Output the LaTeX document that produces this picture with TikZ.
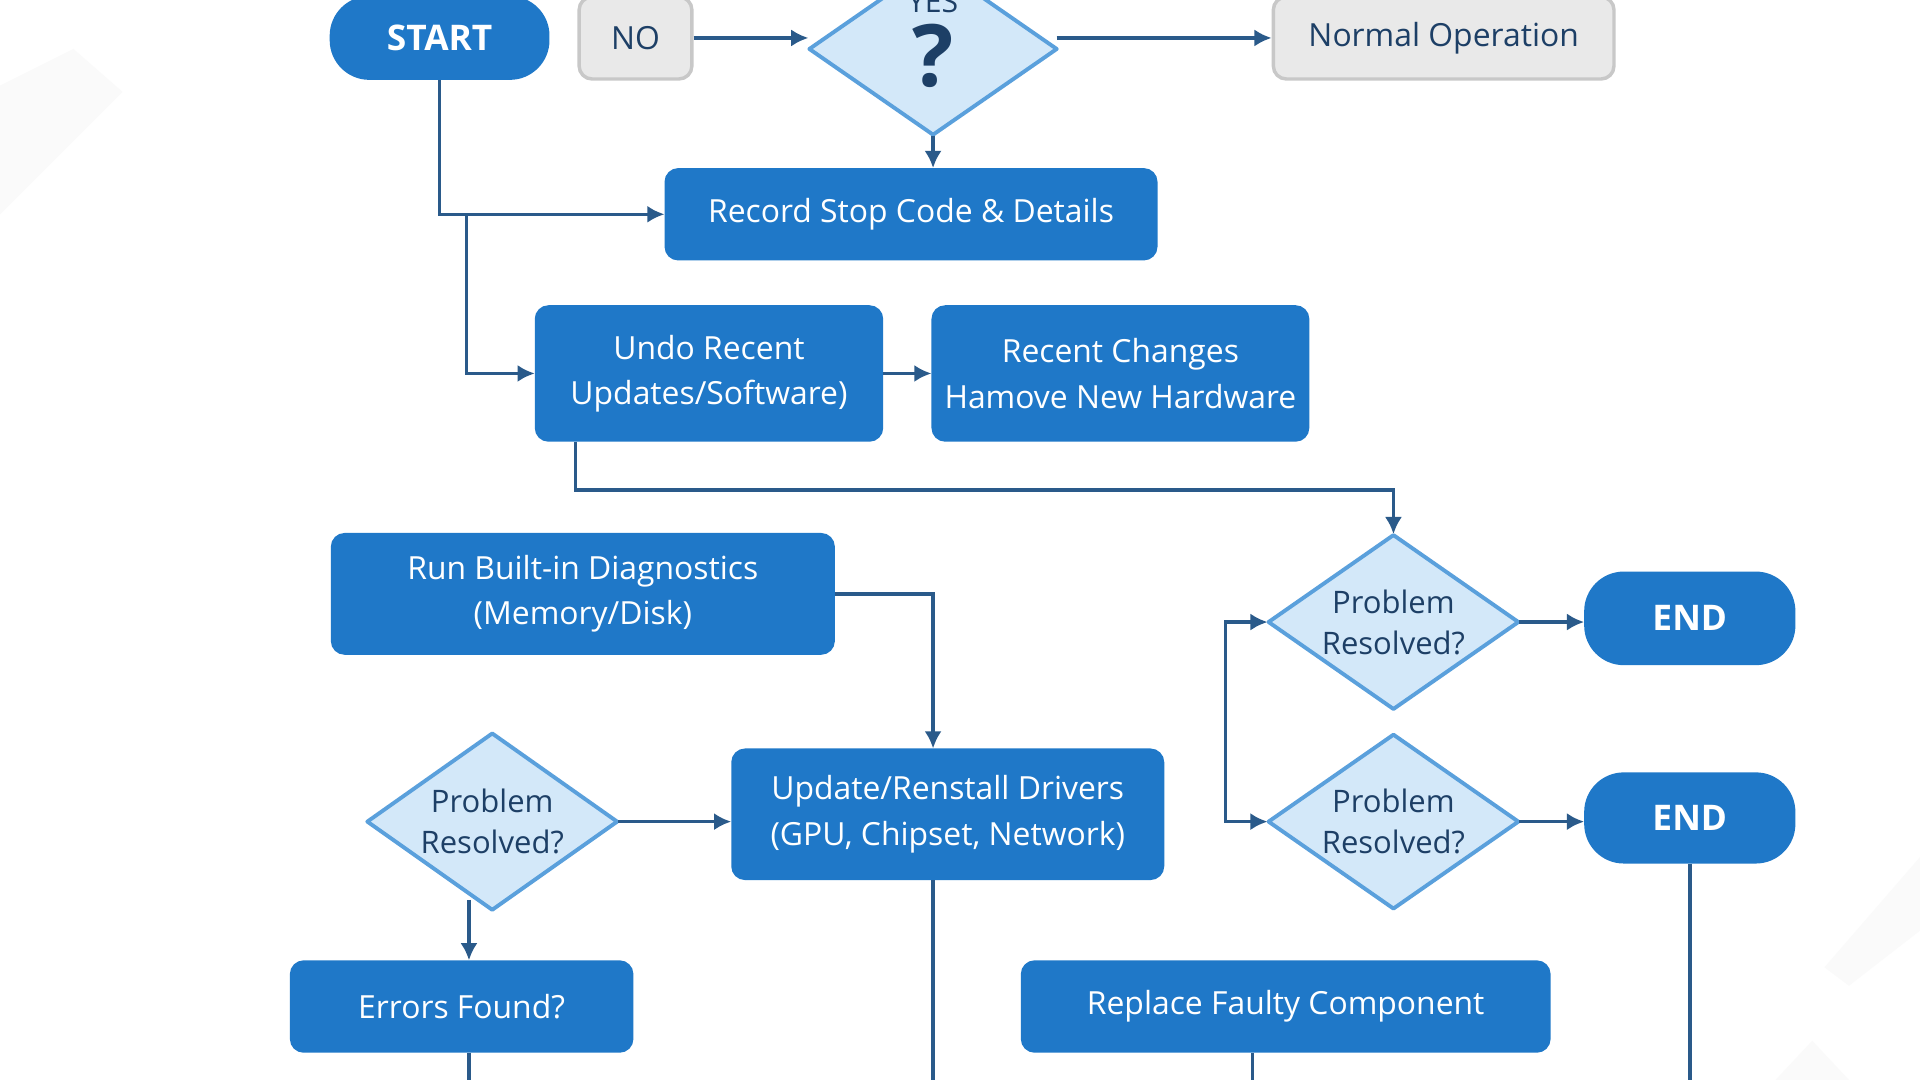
\documentclass[tikz,border=0pt]{standalone}
\usepackage{fontspec}
\setmainfont{Open Sans}
\usetikzlibrary{shapes.geometric,arrows.meta}
\definecolor{bluebox}{HTML}{1F78C8}
\definecolor{line}{HTML}{2A5A8A}
\definecolor{dfill}{HTML}{D3E8F9}
\definecolor{dborder}{HTML}{5AA0DC}
\definecolor{dtext}{HTML}{1D3F66}
\definecolor{gfill}{HTML}{E9E9E9}
\definecolor{gborder}{HTML}{C8C8C8}
\tikzset{
 bx/.style={draw=bluebox,fill=bluebox,text=white,rounded corners=3pt,align=center,font=\fontsize{7.4}{10.5}\selectfont,inner sep=0pt},
 gbx/.style={draw=gborder,fill=gfill,text=dtext,rounded corners=3pt,align=center,font=\fontsize{7.4}{10.5}\selectfont,inner sep=0pt,line width=0.8pt},
 pill/.style={draw=bluebox,fill=bluebox,text=white,rounded corners=9pt,font=\bfseries\fontsize{8.2}{10}\selectfont,inner sep=0pt},
 dshape/.style={draw=dborder,fill=dfill,line width=0.9pt,line join=round},
 dia/.style={diamond,draw=none,text=dtext,align=center,font=\fontsize{7.2}{9.5}\selectfont,inner sep=0pt,minimum width=#1},
 ar/.style={draw=line,line width=0.8pt,-{Latex[length=4pt,width=4pt]}},
 ln/.style={draw=line,line width=0.8pt},
}
\newcommand{\mydia}[6]{% name x y halfw halfh text
 \path[dshape] (#2-#4,#3) -- (#2,#3-#5) -- (#2+#4,#3) -- (#2,#3+#5) -- cycle;
 \node[dia=0pt,minimum width=#4*0.02cm,minimum height=#5*0.02cm] (#1) at (#2,#3) {};
 \node[text=dtext,align=center,font=\fontsize{7.2}{9.5}\selectfont] at (#2,#3) {#6};}
\begin{document}
\begin{tikzpicture}[x=0.01cm,y=-0.01cm]
\useasboundingbox (0,0) rectangle (1568,882);
\fill[white] (0,0) rectangle (1568,882);
\fill[gray!4] (0,70) -- (60,40) -- (100,75) -- (0,175) -- cycle;
\fill[gray!4] (1568,700) -- (1568,760) -- (1510,805) -- (1490,790) -- cycle;
\fill[gray!4] (1450,882) -- (1480,850) -- (1510,882) -- cycle;
\node[pill,minimum width=1.78cm,minimum height=0.67cm] (start) at (359,31) {START};
\node[gbx,minimum width=0.92cm,minimum height=0.67cm] (no) at (519,31) {NO};
\mydia{q}{762}{40}{101}{70}{}
\node[text=dtext,font=\fontsize{7}{8}\selectfont,anchor=base] at (762,10) {YES};
\node[text=dtext,font=\bfseries\fontsize{20}{20}\selectfont] at (762,46) {?};
\node[gbx,minimum width=2.78cm,minimum height=0.67cm] (normal) at (1179,31) {Normal Operation};
\node[bx,minimum width=4.01cm,minimum height=0.74cm] (record) at (744,175) {Record Stop Code \& Details};
\node[bx,minimum width=2.83cm,minimum height=1.10cm] (undo) at (579,305) {Undo Recent\\Updates/Software)};
\node[bx,minimum width=3.07cm,minimum height=1.10cm] (recent) at (915,305) {Recent Changes\\Hamove New Hardware};
\node[bx,minimum width=4.10cm,minimum height=0.98cm] (run) at (476,485) {Run Built-in Diagnostics\\(Memory/Disk)};
\mydia{pr1}{1138}{508}{102}{71}{Problem\\Resolved?}
\node[pill,minimum width=1.71cm,minimum height=0.75cm] (end1) at (1380,505) {END};
\mydia{pr2}{1138}{671}{102}{71}{Problem\\Resolved?}
\node[pill,minimum width=1.71cm,minimum height=0.73cm] (end2) at (1380,668) {END};
\mydia{prl}{402}{671}{102}{72}{Problem\\Resolved?}
\node[bx,minimum width=3.52cm,minimum height=1.06cm] (upd) at (774,665) {Update/Renstall Drivers\\(GPU, Chipset, Network)};
\node[bx,minimum width=2.79cm,minimum height=0.74cm] (err) at (377,822) {Errors Found?};
\node[bx,minimum width=4.31cm,minimum height=0.74cm] (rep) at (1050,822) {Replace Faulty Component};
\coordinate (b1) at (383,882);
\coordinate (b2) at (762,882);
\coordinate (b3) at (1023,882);
\coordinate (b4) at (1380,882);
\draw[ar] (no.east) -- (q.west|-no.east);
\draw[ar] (863,31) -- (normal.west);
\draw[ar] (q.south) -- (record.north-|q.south);
\draw[ar] (start.south) |- (record.west);
\draw[ar] (381,175) |- (undo.west);
\draw[ar] (undo.east) -- (recent.west);
\draw[ar] (undo.south-|470,0) -- (470,400) -| (pr1.north);
\draw[ar] (run.east) -| (upd.north-|762,0);
\draw[ar] (prl.east) -- (upd.west|-prl.east);
\draw[ar] (383,735) -- (err.north-|383,0);
\draw[ar] (1001,590) |- (pr1.west);
\draw[ar] (1001,590) |- (pr2.west);
\draw[ar] (pr1.east) -- (end1.west|-pr1.east);
\draw[ar] (pr2.east) -- (end2.west|-pr2.east);
\draw[ln] (end2.south) -- (b4);
\draw[ln] (upd.south-|762,0) -- (b2);
\draw[ln] (rep.south-|1023,0) -- (b3);
\draw[ln] (err.south-|383,0) -- (b1);
\end{tikzpicture}
\end{document}
